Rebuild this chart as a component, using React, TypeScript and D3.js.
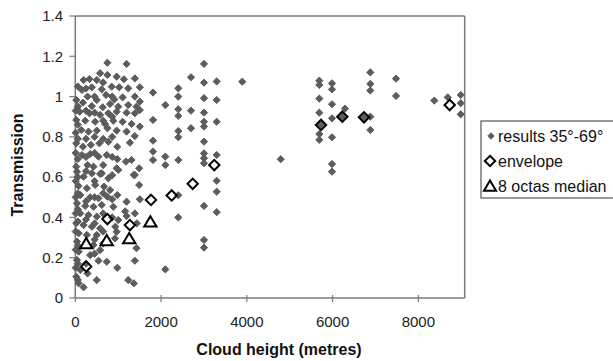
import React from "react";
import * as d3 from "d3";

const xTicks = [0, 2000, 4000, 6000, 8000];
const yTicks = [0, 0.2, 0.4, 0.6, 0.8, 1, 1.2, 1.4];
const legendLabels = ["results 35°-69°", "envelope", "8 octas median"];

const results: [number, number][] = [
  [748, 1.168], [1196, 1.162],
  [193, 1.082], [331, 1.087], [501, 1.082], [748, 1.107], [964, 1.099], [1134, 1.086], [1388, 1.09], [578, 1.116],
  [155, 1.033], [386, 1.046], [617, 1.036], [849, 1.049], [1025, 1.046], [1234, 1.041], [1504, 1.046],
  [23, 0.983], [285, 1.0], [501, 0.983], [717, 1.008], [910, 0.986], [1103, 0.996], [1388, 1.0], [1504, 0.975],
  [178, 0.97], [386, 0.953], [640, 0.947], [810, 0.963], [1002, 0.95], [1234, 0.958], [1427, 0.95],
  [100, 0.925], [331, 0.917], [578, 0.909], [771, 0.917], [964, 0.925], [1196, 0.92], [1388, 0.917], [1504, 0.933],
  [23, 0.884], [231, 0.88], [463, 0.875], [694, 0.864], [887, 0.88], [1103, 0.875], [1311, 0.864], [1504, 0.851],
  [139, 0.834], [308, 0.826], [501, 0.831], [748, 0.843], [964, 0.831], [1196, 0.826], [1388, 0.804],
  [23, 0.768], [178, 0.751], [363, 0.76], [563, 0.768], [771, 0.776], [980, 0.751], [1273, 0.771],
  [155, 0.71], [347, 0.715], [540, 0.702], [733, 0.71], [980, 0.689], [1180, 0.677], [1311, 0.685], [1489, 0.644],
  [23, 0.652], [285, 0.66], [424, 0.652], [617, 0.619], [964, 0.644], [1365, 0.611],
  [39, 0.627], [193, 0.602], [386, 0.619], [578, 0.616], [771, 0.594], [1002, 0.636], [1388, 0.611], [1489, 0.561],
  [77, 0.556], [270, 0.545], [463, 0.561], [671, 0.553], [810, 0.536], [980, 0.511], [1196, 0.478], [1504, 0.49],
  [116, 0.511], [347, 0.5], [540, 0.495], [748, 0.503],
  [39, 0.47], [231, 0.457], [424, 0.453], [617, 0.462], [887, 0.453], [1388, 0.42],
  [116, 0.42], [308, 0.412], [501, 0.404], [1002, 0.387], [1196, 0.407], [1164, 0.43],
  [23, 0.371], [193, 0.362], [386, 0.354], [578, 0.346], [964, 0.329], [933, 0.354], [1435, 0.371],
  [77, 0.321], [270, 0.313], [501, 0.313], [925, 0.296], [1427, 0.247],
  [39, 0.28], [424, 0.263], [578, 0.238],
  [77, 0.23], [347, 0.213], [540, 0.185], [733, 0.18], [980, 0.15], [1388, 0.185],
  [39, 0.189], [116, 0.139], [285, 0.122], [501, 0.089], [1234, 0.089], [1365, 0.073], [77, 0.073], [193, 0.053], [23, 0.106],
  [10, 0.93], [10, 0.82], [10, 0.72], [10, 0.58], [10, 0.5], [10, 0.42], [10, 0.33], [10, 0.24], [10, 0.15],
  [60, 1.05], [60, 0.95], [60, 0.86], [60, 0.79], [60, 0.69], [60, 0.6], [60, 0.52], [60, 0.44], [60, 0.38], [60, 0.26], [60, 0.17], [60, 0.09],
  [250, 1.04], [250, 0.93], [250, 0.79], [250, 0.7], [250, 0.63], [250, 0.48], [250, 0.39], [250, 0.27], [250, 0.17],
  [450, 1.0], [450, 0.92], [450, 0.8], [450, 0.72], [450, 0.58], [450, 0.5], [450, 0.37], [450, 0.29], [450, 0.22],
  [650, 1.07], [650, 0.88], [650, 0.79], [650, 0.66], [650, 0.52], [650, 0.42], [650, 0.33], [650, 0.27],
  [860, 1.0], [860, 0.9], [860, 0.8], [860, 0.7], [860, 0.61], [860, 0.49], [860, 0.4],
  [1812, 1.02], [1812, 0.884], [1812, 0.781], [1812, 0.727], [1812, 0.685],
  [2099, 0.958], [2099, 0.702], [2099, 0.66], [2099, 0.142],
  [2402, 1.041], [2402, 1.0], [2402, 0.937], [2402, 0.904], [2402, 0.829], [2402, 0.798], [2402, 0.685], [2402, 0.51], [2402, 0.4],
  [2698, 1.096], [2698, 0.93], [2698, 0.843],
  [3001, 1.162], [3001, 1.069], [3001, 0.992], [3001, 0.92], [3001, 0.875], [3001, 0.851], [3001, 0.776], [3001, 0.718], [3001, 0.694], [3001, 0.669], [3001, 0.457], [3001, 0.288], [3001, 0.25],
  [3297, 1.075], [3297, 0.983], [3297, 0.875], [3297, 0.71], [3297, 0.582], [3297, 0.528], [3297, 0.426],
  [3894, 1.074], [4790, 0.689],
  [5690, 1.079], [5690, 1.058], [5690, 0.99], [5690, 0.92], [5730, 0.859], [5690, 0.814], [5690, 0.785],
  [5986, 1.066], [5986, 1.036], [5986, 0.962], [5986, 0.892], [5986, 0.798], [5986, 0.665], [5986, 0.627],
  [6226, 0.9], [6289, 0.94],
  [6879, 1.12], [6879, 1.063], [6879, 1.03], [6879, 0.9], [6879, 0.834], [6732, 0.897],
  [7479, 1.089], [7479, 1.003],
  [8372, 0.98], [8684, 0.996], [8988, 1.008], [8988, 0.967], [8988, 0.912],
];

const envelope: [number, number][] = [
  [254, 0.156], [748, 0.392], [1273, 0.362], [1765, 0.487], [2248, 0.509], [2738, 0.567],
  [3241, 0.66], [5730, 0.859], [6226, 0.9], [6732, 0.897], [8730, 0.958],
];

const median: [number, number][] = [
  [254, 0.27], [733, 0.285], [1257, 0.295], [1751, 0.378],
];

const x = d3.scaleLinear().domain([0, 9080]).range([75.3, 464.7]);
const y = d3.scaleLinear().domain([0, 1.4]).range([298, 16]);

const diamond = (cx: number, cy: number, r: number) =>
  `M${cx},${cy - r}L${cx + r},${cy}L${cx},${cy + r}L${cx - r},${cy}Z`;
const triangle = (cx: number, cy: number, r: number) =>
  `M${cx},${cy - r}L${cx + r * 1.1},${cy + r * 0.85}L${cx - r * 1.1},${cy + r * 0.85}Z`;

const FONT = "Arial, 'Liberation Sans', Helvetica, sans-serif";
const AXIS = "#7a7a7a";
const DOT = "#5c5c5c";

export default function App() {
  const [x0, x1] = x.range();
  const [y0, y1] = y.range();
  return (
    <svg
      width={613}
      height={361}
      style={{ position: "absolute", left: 0, top: 0, background: "#fff" }}
      fontFamily={FONT}
    >
      <rect x={0} y={0} width={613} height={361} fill="#fff" />
      {/* frame */}
      <line x1={x0} y1={y1} x2={x1} y2={y1} stroke={AXIS} strokeWidth={1.5} />
      <line x1={x1} y1={y1} x2={x1} y2={y0} stroke={AXIS} strokeWidth={1.5} />
      <line x1={x0} y1={y1} x2={x0} y2={y0} stroke={AXIS} strokeWidth={1.5} />
      <line x1={x0} y1={y0} x2={x1} y2={y0} stroke={AXIS} strokeWidth={1.5} />
      {/* y ticks */}
      {yTicks.map((t) => (
        <g key={"y" + t}>
          <line x1={x0 - 6} x2={x0} y1={y(t)} y2={y(t)} stroke={AXIS} strokeWidth={1.2} />
          <text x={63} y={y(t)} dy="0.35em" textAnchor="end" fontSize={15} fill="#222">
            {t}
          </text>
        </g>
      ))}
      {/* x ticks */}
      {xTicks.map((t) => (
        <g key={"x" + t}>
          <line x1={x(t)} x2={x(t)} y1={y0 - 3} y2={y0 + 4} stroke={AXIS} strokeWidth={1.2} />
          <text x={x(t)} y={327} textAnchor="middle" fontSize={15} fill="#222">
            {t}
          </text>
        </g>
      ))}
      {/* results */}
      {results.map(([a, b], i) => (
        <path key={"r" + i} d={diamond(x(a), y(b), 3.6)} fill={DOT} stroke={DOT} strokeWidth={1} strokeLinejoin="round" />
      ))}
      {/* envelope */}
      {envelope.map(([a, b], i) => (
        <path key={"e" + i} d={diamond(x(a), y(b), 5.2)} fill="none" stroke="#000" strokeWidth={2} />
      ))}
      {/* median */}
      {median.map(([a, b], i) => (
        <path key={"m" + i} d={triangle(x(a), y(b), 5.6)} fill="#fff" stroke="#000" strokeWidth={2} strokeLinejoin="miter" />
      ))}
      {/* axis titles */}
      <text x={279} y={355} textAnchor="middle" fontSize={16} fontWeight="bold" fill="#111">
        Cloud height (metres)
      </text>
      <text
        transform={`translate(23,165) rotate(-90)`}
        textAnchor="middle"
        fontSize={16}
        fontWeight="bold"
        fill="#111"
      >
        Transmission
      </text>
      {/* legend */}
      <rect x={481} y={121} width={140} height={77} fill="#fff" stroke="#555" strokeWidth={1.2} />
      <path d={diamond(491, 136, 3.2)} fill={DOT} stroke={DOT} strokeWidth={1} strokeLinejoin="round" />
      <text x={498} y={136} dy="0.35em" fontSize={16} fill="#111">{legendLabels[0]}</text>
      <path d={diamond(490, 161, 5.2)} fill="none" stroke="#000" strokeWidth={2} />
      <text x={498} y={161} dy="0.35em" fontSize={16} fill="#111">{legendLabels[1]}</text>
      <path d={triangle(490, 186, 5.5)} fill="#fff" stroke="#000" strokeWidth={2} />
      <text x={498} y={186} dy="0.35em" fontSize={16} fill="#111">{legendLabels[2]}</text>
    </svg>
  );
}
